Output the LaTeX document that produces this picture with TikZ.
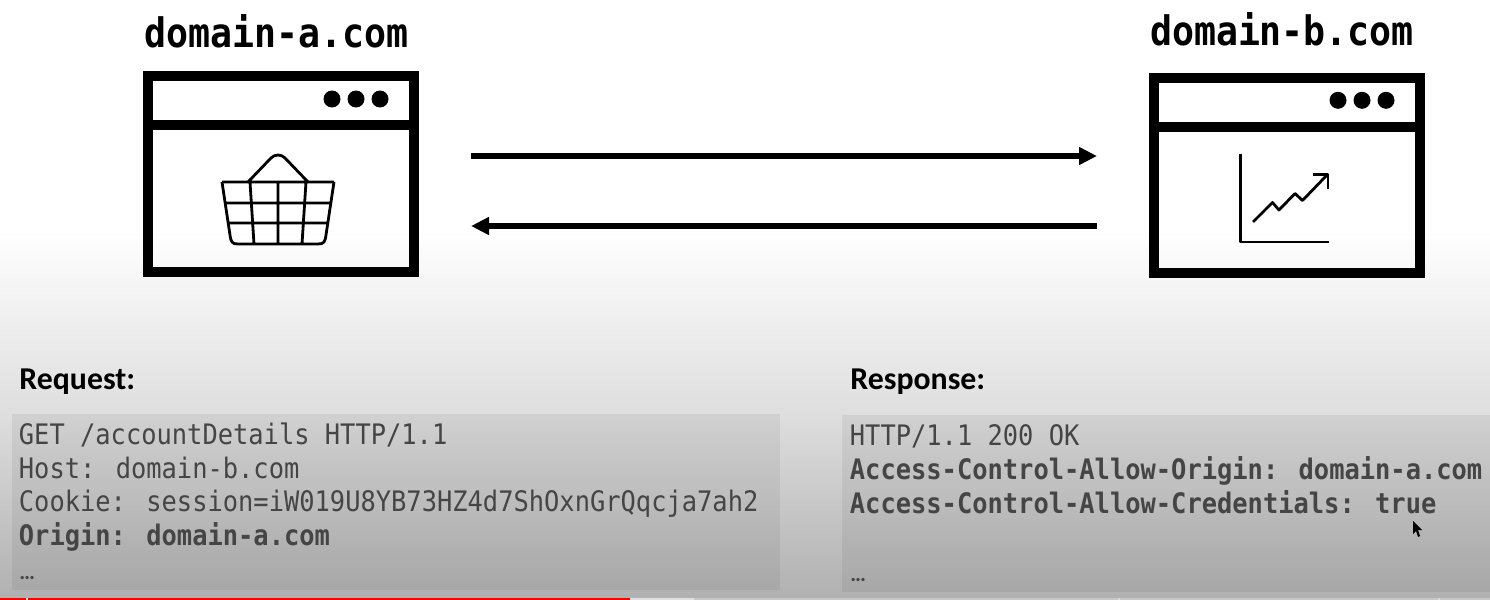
\documentclass[tikz,border=0pt]{standalone}
\usepackage{fontspec}
\setmainfont{Carlito}
\newfontfamily\codefont[FakeStretch=0.9]{DejaVu Sans Mono}
\usetikzlibrary{arrows.meta}
\definecolor{codegray}{HTML}{454545}
\definecolor{midgray}{HTML}{DFDFDF}
\definecolor{lowgray}{HTML}{B0B0B0}
\tikzset{
    window/.style={draw=black, line width=5pt, minimum width=133pt, minimum height=97.75pt, inner sep=0pt},
    bar/.style={line width=5pt},
    sitename/.style={font=\codefont\bfseries\fontsize{20.3}{24}\selectfont, text=black, inner sep=0pt},
    heading/.style={font=\bfseries\fontsize{15.9}{18}\selectfont, anchor=base west, text=black, inner sep=0pt},
    codeline/.style={font=\codefont\fontsize{14.12}{17}\selectfont, anchor=base west, text=codegray, inner sep=0pt},
    codebold/.style={codeline, font=\codefont\bfseries\fontsize{14.12}{17}\selectfont},
    codedots/.style={codeline, font=\bfseries\fontsize{11}{12}\selectfont},
    arrowline/.style={line width=3pt, -{Triangle[length=9pt, width=8.5pt]}},
    icon/.style={line width=1.4pt, line join=round},
    codebox/.style={fill=black, fill opacity=0.06, draw=none}
}
\begin{document}
\begin{tikzpicture}[x=0.5pt, y=-0.5pt]
    \useasboundingbox (0, 0) rectangle (1490, 600);
    % background
    \fill [white] (0, 0) rectangle (1490, 230);
    \shade [top color=white, bottom color=midgray] (0, 230) rectangle (1490, 410);
    \shade [top color=midgray, bottom color=lowgray] (0, 410) rectangle (1490, 600);

    % left window
    \node [sitename] (siteA) at (276.5, 31) {domain-a.com};
    \node [window] (winA) at (281, 174) {};
    \draw [bar] (winA.west |- 0, 125) -- (winA.east |- 0, 125);
    \foreach \x in {332, 356, 380}
        \fill (\x, 99) circle [radius=4.25pt];
    % basket
    \draw [icon] (222, 182) -- (334, 182)
                 (222, 182) -- (230, 235) .. controls (231, 242) and (232, 244) .. (238, 244)
                 -- (318, 244) .. controls (324, 244) and (325, 242) .. (326, 235) -- (334, 182)
                 (225, 203) -- (331, 203)
                 (228, 223) -- (328, 223)
                 (250, 182) -- (254, 244)
                 (278, 182) -- (278, 244)
                 (306, 182) -- (302, 244)
                 (248, 182) -- (271, 158) .. controls (275, 154) and (281, 154) .. (285, 158) -- (308, 182);

    % right window
    \node [sitename] (siteB) at (1282, 29) {domain-b.com};
    \node [window] (winB) at (1287, 175.3) {};
    \draw [bar] (winB.west |- 0, 126.7) -- (winB.east |- 0, 126.7);
    \foreach \x in {1338, 1362, 1386}
        \fill (\x, 100.3) circle [radius=4.25pt];
    % chart
    \draw [icon] (1240.5, 154) -- (1240.5, 242) -- (1329, 242);
    \draw [icon] (1253, 222) -- (1272.5, 202.5) -- (1279, 210) -- (1295, 193.5) -- (1302.5, 200.5) -- (1327, 175);
    \draw [icon] (1313, 174.5) -- (1328, 174.5) -- (1328, 189);

    % arrows
    \coordinate (reqStart) at (471, 156);
    \coordinate (reqEnd) at (1097, 156);
    \coordinate (resStart) at (1097, 226);
    \coordinate (resEnd) at (471, 226);
    \draw [arrowline] (reqStart) -- (reqEnd);
    \draw [arrowline] (resStart) -- (resEnd);

    % request
    \node [heading] (reqTitle) at (19, 389) {Request:};
    \fill [codebox] (12, 414) rectangle (780, 590);
    \node [codeline] (reqA) at (18.5, 444) {GET /accountDetails HTTP/1.1};
    \node [codeline] (reqB) at (18.5, 478) {Host: domain-b.com};
    \node [codeline] (reqC) at (18.5, 511) {Cookie: session=iW019U8YB73HZ4d7ShOxnGrQqcja7ah2};
    \node [codebold] (reqD) at (18.5, 545) {Origin: domain-a.com};
    \node [codedots] (reqE) at (19, 579) {…};

    % response
    \node [heading] (resTitle) at (850, 389) {Response:};
    \fill [codebox] (842, 415) rectangle (1490, 592);
    \node [codeline] (resA) at (849.5, 445) {HTTP/1.1 200 OK};
    \node [codebold] (resB) at (849.5, 479) {Access-Control-Allow-Origin: domain-a.com};
    \node [codebold] (resC) at (849.5, 513) {Access-Control-Allow-Credentials: true};
    \node [codedots] (resD) at (850, 581) {…};

    % cursor
    \fill (1413, 521) -- (1413, 534) -- (1416, 531) -- (1418, 537) -- (1420, 536) -- (1418, 530) -- (1422, 530) -- cycle;

    % player bar
    \fill [black!22] (0, 598) rectangle (1490, 600);
    \fill [black!12] (630, 598) rectangle (694, 600);
    \fill [red] (0, 598) rectangle (630, 600);
    \foreach \x in {26, 1118, 1438}
        \fill [white!70!gray] (\x, 598) rectangle (\x+2, 600);
\end{tikzpicture}
\end{document}
